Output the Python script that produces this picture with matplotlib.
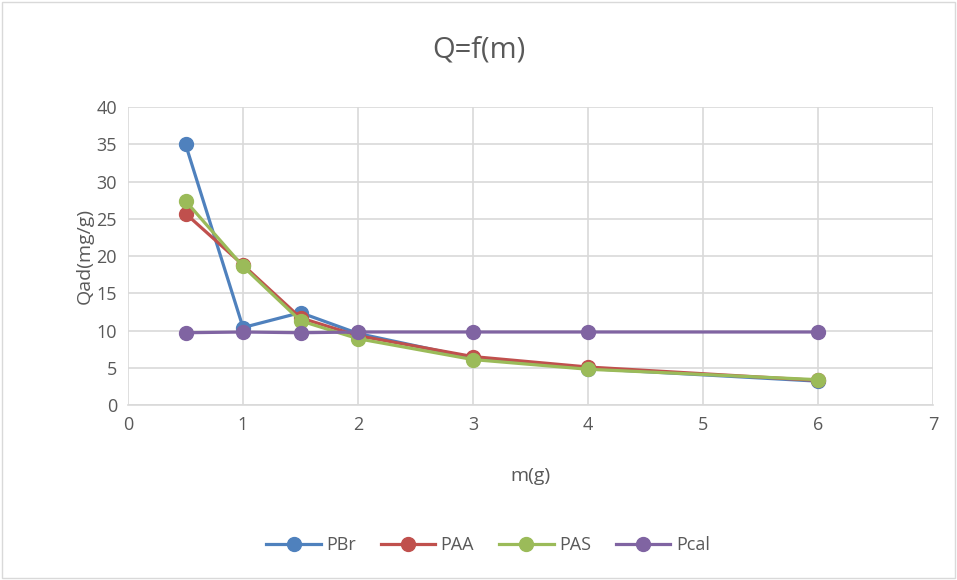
import matplotlib
matplotlib.use("Agg")
import matplotlib.pyplot as plt

m = [0.5, 1, 1.5, 2, 3, 4, 6]
pbr = [35.0, 10.4, 12.4, 9.6, 6.3, 4.9, 3.2]
paa = [25.7, 18.8, 11.7, 9.3, 6.5, 5.1, 3.3]
pas = [27.4, 18.6, 11.3, 8.9, 6.1, 4.8, 3.4]
pcal = [9.7, 9.8, 9.7, 9.8, 9.8, 9.8, 9.8]
series = [("PBr", pbr, "#4F81BD"), ("PAA", paa, "#C0504D"),
          ("PAS", pas, "#9BBB59"), ("Pcal", pcal, "#8064A2")]

plt.rcParams['font.family'] = ['Open Sans', 'DejaVu Sans']
txt = "#595959"

fig = plt.figure(figsize=(9.57, 5.8), dpi=100)
ax = fig.add_axes([0.1338, 0.3017, 0.841, 0.5138])

for name, vals, col in series:
    ax.plot(m, vals, color=col, lw=2.3, marker='o', markersize=10, label=name)

ax.set_xlim(0, 7)
ax.set_ylim(0, 40)
ax.set_xticks(range(0, 8))
ax.set_yticks(range(0, 41, 5))
ax.grid(True, color="#D9D9D9", lw=1.2)
ax.set_axisbelow(True)
for s in ["top", "right", "left"]:
    ax.spines[s].set_visible(False)
ax.spines["bottom"].set_color("#D9D9D9")
ax.spines["bottom"].set_linewidth(1.2)
ax.tick_params(length=0, labelsize=13, colors=txt, pad=8)

ax.set_xlabel("m(g)", fontsize=14, color=txt, labelpad=24)
ax.set_ylabel("Qad(mg/g)", fontsize=14, color=txt, labelpad=2)
fig.text(0.5, 0.913, "Q=f(m)", ha="center", va="center", fontsize=21, color=txt)

leg = fig.legend(loc="center", bbox_to_anchor=(0.51, 0.06), ncol=4, frameon=False,
                 fontsize=13, handlelength=3.0, columnspacing=1.4, handletextpad=0.3)
for t in leg.get_texts():
    t.set_color(txt)

fig.patches.append(plt.Rectangle((0.002, 0.003), 0.996, 0.994, transform=fig.transFigure,
                                 fill=False, edgecolor="#D9D9D9", lw=1))
fig.savefig("out.png", dpi=100)
